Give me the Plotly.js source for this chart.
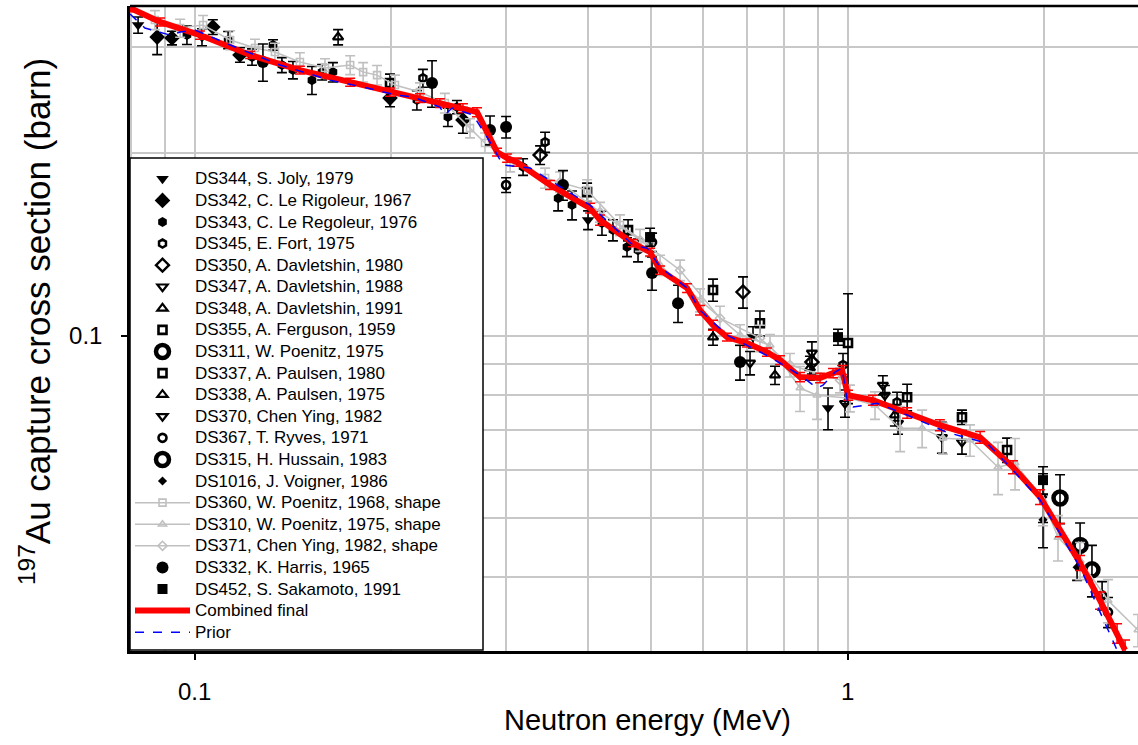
<!DOCTYPE html>
<html><head><meta charset="utf-8">
<script src="https://cdn.plot.ly/plotly-3.0.1.min.js"></script>
<style>html,body{margin:0;padding:0;background:#fff}#chart{width:1138px;height:745px}</style>
</head><body><div id="chart"></div>
<script>
// ---- data (energy in MeV, cross section in barn, absolute uncertainty) ----
const E_DS344 = [0.0819, 0.1026, 0.4003, 0.7161, 0.9329];
const S_DS344 = [0.3256, 0.3110, 0.1552, 0.0995, 0.0760];
const U_DS344 = [0.010, 0.010, 0.0055, 0.004, 0.006];

const E_DS342 = [0.0876, 0.0923, 0.1066, 0.1173, 0.1991, 0.2575];
const S_DS342 = [0.3110, 0.3099, 0.3231, 0.2906, 0.2467, 0.2269];
const U_DS342 = [0.020, 0.008, 0.009, 0.008, 0.008, 0.011];

const E_DS343 = [0.0973,0.1125,0.1224,0.1318,0.1360,0.1414,0.1512,0.1567,0.1628,0.2189,0.2442,0.2521,0.3183,0.3602,0.3783,0.4204,0.4370,0.4592,0.4774];
const S_DS343 = [0.3134,0.3076,0.2884,0.3018,0.2797,0.2744,0.2641,0.2723,0.2723,0.2448,0.2295,0.2384,0.1899,0.1687,0.1643,0.1535,0.1494,0.1401,0.1384];
const U_DS343 = [0.011,0.010,0.009,0.006,0.008,0.009,0.014,0.008,0.010,0.009,0.008,0.006,0.006,0.008,0.009,0.007,0.006,0.005,0.006];

const E_DS345 = [0.2236, 0.3440, 0.9835, 1.190];
const S_DS345 = [0.2661, 0.2087, 0.0895, 0.0777];
const U_DS345 = [0.009, 0.008, 0.004, 0.003];

const E_DS350 = [0.3380, 0.6913, 0.8814];
const S_DS350 = [0.1987, 0.1181, 0.0905];
const U_DS350 = [0.007, 0.007, 0.004];

const E_DS347 = [0.7086, 0.8814, 0.9905, 1.132, 1.194, 1.394];
const S_DS347 = [0.0902, 0.0937, 0.0774, 0.0829, 0.0718, 0.0680];
const U_DS347 = [0.004, 0.004, 0.004, 0.003, 0.003, 0.004];

const E_DS348 = [0.1658, 0.6219, 0.7738];
const S_DS348 = [0.3110, 0.0995, 0.0861];
const U_DS348 = [0.009, 0.003, 0.003];

const E_DS355 = [0.6219, 0.7338, 1.496, 1.754];
const S_DS355 = [0.1190, 0.1049, 0.0734, 0.0648];
const U_DS355 = [0.005, 0.005, 0.002, 0.003];

const E_DS311 = [2.114, 2.269];
const S_DS311 = [0.0540, 0.0451];
const U_DS311 = [0.005, 0.004];

const E_DS337 = [0.1991, 0.3989, 0.4609, 1.001, 1.233];
const S_DS337 = [0.2612, 0.1726, 0.1494, 0.0973, 0.0792];
const U_DS337 = [0.009, 0.006, 0.006, 0.020, 0.004];

const E_DS338 = [0.8752, 1.181];
const S_DS338 = [0.0885, 0.0740];
const U_DS338 = [0.004, 0.003];

const E_DS370 = [1.140, 1.496];
const S_DS370 = [0.0798, 0.0668];
const U_DS370 = [0.003, 0.003];

const E_DS367 = [0.2998, 0.5016, 2.452, 2.504];
const S_DS367 = [0.1773, 0.1427, 0.0373, 0.0350];
const U_DS367 = [0.005, 0.005, 0.002, 0.002];

const E_DS315 = [2.366];
const S_DS315 = [0.0411];
const U_DS315 = [0.004];

const E_DS1016 = [1.991, 1.991, 2.245];
const S_DS1016 = [0.0542, 0.0497, 0.0415];
const U_DS1016 = [0.005, 0.005, 0.002];

const E_DS360 = [0.0869,0.0950,0.1030,0.1133,0.1237,0.1327,0.1449,0.1583,0.1730,0.1811,0.1902,0.2026,0.2213,0.2416,0.2640,0.2783,0.3041,0.3440,0.3989,0.4479,0.4981];
const S_DS360 = [0.3319,0.3219,0.3256,0.3076,0.2984,0.2939,0.2830,0.2765,0.2797,0.2723,0.2692,0.2592,0.2524,0.2421,0.2201,0.2080,0.1934,0.1821,0.1739,0.1523,0.1411];
const U_DS360 = [0.012,0.011,0.012,0.011,0.010,0.010,0.010,0.010,0.010,0.010,0.010,0.010,0.009,0.009,0.008,0.008,0.007,0.007,0.007,0.006,0.006];

const E_DS310 = [0.5160,0.5941,0.6840,0.7603,0.8452,0.8974,1.008,1.101,1.203,1.300,1.399,1.539,1.699,1.804,1.991,2.099,2.269,2.504,2.783];
const S_DS310 = [0.1308,0.1145,0.1003,0.0965,0.0820,0.0798,0.0789,0.0768,0.0704,0.0704,0.0678,0.0673,0.0607,0.0617,0.0536,0.0465,0.0426,0.0366,0.0327];
const U_DS310 = [0.005,0.005,0.004,0.004,0.007,0.007,0.004,0.004,0.006,0.005,0.004,0.004,0.006,0.006,0.005,0.004,0.003,0.003,0.002];

const E_DS371 = [0.3627,0.4175,0.4808,0.5537,0.6374,0.7338,0.8157,0.9732];
const S_DS371 = [0.1793,0.1600,0.1438,0.1283,0.1069,0.0991,0.0895,0.0845];
const U_DS371 = [0.007,0.006,0.006,0.005,0.005,0.005,0.004,0.004];

const E_DS332 = [0.1272,0.2309,0.2833,0.2998,0.3664,0.5016,0.5497,0.6840];
const S_DS332 = [0.2830,0.2612,0.2185,0.2210,0.1773,0.1269,0.1132,0.0905];
const U_DS332 = [0.020,0.023,0.012,0.009,0.010,0.008,0.008,0.006];

const E_DS452 = [0.4981, 0.9663, 1.991];
const S_DS452 = [0.1455, 0.0995, 0.0578];
const U_DS452 = [0.005, 0.003, 0.003];

const E_FINAL = [0.0796,0.0885,0.1019,0.1216,0.1449,0.1730,0.1991,0.2213,0.2374,0.2575,0.2706,0.2904,0.3009,0.3116,0.3501,0.4031,0.4175,0.4690,0.4981,0.5160,0.5675,0.5941,0.6219,0.6533,0.7011,0.7522,0.7876,0.8452,0.9070,0.9495,0.9801,1.001,1.093,1.233,1.384,1.595,1.791,1.970,2.114,2.269,2.434,2.585,2.659];
const S_FINAL = [0.3474,0.3294,0.3134,0.2906,0.2744,0.2621,0.2524,0.2467,0.2421,0.2375,0.2339,0.2009,0.1964,0.1934,0.1773,0.1624,0.1552,0.1422,0.1374,0.1283,0.1199,0.1102,0.1041,0.0995,0.0973,0.0940,0.0912,0.0855,0.0852,0.0868,0.0878,0.0798,0.0783,0.0746,0.0712,0.0680,0.0607,0.0542,0.0478,0.0422,0.0366,0.0323,0.0303];
const U_FINAL = [0.005,0.005,0.005,0.004,0.004,0.004,0.004,0.004,0.004,0.004,0.004,0.003,0.003,0.003,0.003,0.003,0.003,0.002,0.002,0.002,0.002,0.002,0.002,0.0015,0.0015,0.0015,0.0015,0.0015,0.0015,0.0015,0.0015,0.0015,0.0015,0.0015,0.0015,0.0015,0.0015,0.0015,0.0012,0.0012,0.0012,0.0012,0.0012];

const E_PRIOR = [0.0796,0.0839,0.0917,0.0950,0.1001,0.1133,0.1351,0.1611,0.1811,0.2041,0.2159,0.2293,0.2374,0.2416,0.2477,0.2668,0.2803,0.2966,0.3263,0.4031,0.4690,0.4929,0.5160,0.5675,0.5941,0.6533,0.7603,0.8452,0.8974,0.9166,0.9561,0.9801,1.001,1.019,1.109,1.233,1.419,1.634,1.791,1.970,2.269,2.585];
const S_PRIOR = [0.3396,0.3219,0.3134,0.3171,0.3195,0.3018,0.2797,0.2641,0.2572,0.2495,0.2476,0.2421,0.2384,0.2313,0.2375,0.2313,0.2128,0.1913,0.1891,0.1643,0.1411,0.1395,0.1298,0.1199,0.1102,0.1003,0.0922,0.0861,0.0820,0.0829,0.0871,0.0885,0.0768,0.0763,0.0774,0.0740,0.0693,0.0665,0.0600,0.0536,0.0415,0.0303];

const X_TICKS = [0.1, 1];
const X_TICKTEXT = ['0.1', '1'];
const X_MINOR = [0.08, 0.09, 0.2, 0.3, 0.4, 0.5, 0.6, 0.7, 0.8, 0.9, 2];
const Y_TICKS = [0.1];
const Y_TICKTEXT = ['0.1'];
const Y_MINOR = [0.04, 0.05, 0.06, 0.07, 0.08, 0.09, 0.2, 0.3];
const X_TITLE = 'Neutron energy (MeV)';
const Y_TITLE = '<sup>197</sup>Au capture cross section (barn)';

// ---- traces ----
const BLK = '#000000', GRY = '#c0c0c0';
const lg = s => '<span style="font-size:17px">' + s + '</span>';
function pts(name, E, S, U, symbol, size, lw, color) {
  return {
    type: 'scatter', mode: 'markers', name: lg(name), x: E, y: S,
    error_y: {type: 'data', array: U, visible: true, color: BLK, thickness: 1.6, width: 5},
    marker: {symbol: symbol, size: size, color: color || BLK, line: {color: BLK, width: lw}}
  };
}
function shape(name, E, S, U, symbol) {
  return {
    type: 'scatter', mode: 'lines+markers', name: lg(name), x: E, y: S,
    line: {color: GRY, width: 1.5},
    error_y: {type: 'data', array: U, visible: true, color: GRY, thickness: 1.6, width: 5},
    marker: {symbol: symbol, size: 7, color: GRY, line: {color: GRY, width: 1.6}}
  };
}
const traces = [
  pts('DS344, S. Joly, 1979', E_DS344, S_DS344, U_DS344, 'triangle-down', 11, 0),
  pts('DS342, C. Le Rigoleur, 1967', E_DS342, S_DS342, U_DS342, 'diamond', 12, 0),
  pts('DS343, C. Le Regoleur, 1976', E_DS343, S_DS343, U_DS343, 'hexagon', 10, 0),
  pts('DS345, E. Fort, 1975', E_DS345, S_DS345, U_DS345, 'hexagon-open', 8, 2.5),
  pts('DS350, A. Davletshin, 1980', E_DS350, S_DS350, U_DS350, 'diamond-open', 10, 2.4),
  pts('DS347, A. Davletshin, 1988', E_DS347, S_DS347, U_DS347, 'triangle-down-open', 9, 2.2),
  pts('DS348, A. Davletshin, 1991', E_DS348, S_DS348, U_DS348, 'triangle-up-open', 9, 2.2),
  pts('DS355, A. Ferguson, 1959', E_DS355, S_DS355, U_DS355, 'square-open', 8, 2.6),
  pts('DS311, W. Poenitz, 1975', E_DS311, S_DS311, U_DS311, 'circle-open', 13, 4.5),
  pts('DS337, A. Paulsen, 1980', E_DS337, S_DS337, U_DS337, 'square-open', 8, 2.6),
  pts('DS338, A. Paulsen, 1975', E_DS338, S_DS338, U_DS338, 'triangle-up-open', 9, 2.2),
  pts('DS370, Chen Ying, 1982', E_DS370, S_DS370, U_DS370, 'triangle-down-open', 9, 2.2),
  pts('DS367, T. Ryves, 1971', E_DS367, S_DS367, U_DS367, 'circle-open', 8, 2.6),
  pts('DS315, H. Hussain, 1983', E_DS315, S_DS315, U_DS315, 'circle-open', 13, 4.5),
  pts('DS1016, J. Voigner, 1986', E_DS1016, S_DS1016, U_DS1016, 'diamond', 7, 0),
  shape('DS360, W. Poenitz, 1968, shape', E_DS360, S_DS360, U_DS360, 'square-open'),
  shape('DS310, W. Poenitz, 1975, shape', E_DS310, S_DS310, U_DS310, 'triangle-up-open'),
  shape('DS371, Chen Ying, 1982, shape', E_DS371, S_DS371, U_DS371, 'diamond-open'),
  pts('DS332, K. Harris, 1965', E_DS332, S_DS332, U_DS332, 'circle', 12, 0),
  pts('DS452, S. Sakamoto, 1991', E_DS452, S_DS452, U_DS452, 'square', 10, 0),
  {type: 'scatter', mode: 'lines', name: lg('Combined final'), x: E_FINAL, y: S_FINAL,
   line: {color: '#ff0000', width: 6},
   error_y: {type: 'data', array: U_FINAL, visible: true, color: '#ff0000', thickness: 1.5, width: 5}},
  {type: 'scatter', mode: 'lines', name: lg('Prior'), x: E_PRIOR, y: S_PRIOR,
   line: {color: '#0000ff', width: 1.5, dash: 'dash'}}
];

const FONT = 'Liberation Sans, Arial, sans-serif';
const layout = {
  width: 1138, height: 745,
  margin: {l: 130, r: 0, t: 6, b: 94},
  paper_bgcolor: '#ffffff', plot_bgcolor: '#ffffff',
  font: {family: FONT, color: '#000000'},
  showlegend: true,
  legend: {x: 0, y: 0.7566, xanchor: 'left', yanchor: 'top', bgcolor: 'rgba(0,0,0,0)',
           borderwidth: 0, font: {family: FONT, size: 14.3, color: '#000'},
           tracegroupgap: 0, itemwidth: 55},
  xaxis: {
    type: 'log', range: [Math.log10(0.0796), Math.log10(2.783)],
    tickmode: 'array', tickvals: X_TICKS, ticktext: X_TICKTEXT,
    ticks: 'outside', ticklen: 6, tickwidth: 1.5, tickcolor: '#000',
    ticklabelstandoff: 11,
    tickfont: {family: FONT, size: 24},
    showline: true, linecolor: '#000', linewidth: 2.5, mirror: false,
    showgrid: true, gridcolor: '#c8c8c8', gridwidth: 1.5, zeroline: false,
    minor: {tickvals: X_MINOR, showgrid: true, gridcolor: '#c8c8c8', gridwidth: 1.5, ticks: ''}
  },
  yaxis: {
    type: 'log', range: [Math.log10(0.0302), Math.log10(0.350)],
    tickmode: 'array', tickvals: Y_TICKS, ticktext: Y_TICKTEXT,
    ticks: 'outside', ticklen: 6, tickwidth: 1.5, tickcolor: '#000',
    ticklabelstandoff: 14,
    tickfont: {family: FONT, size: 24},
    showline: true, linecolor: '#000', linewidth: 2.5, mirror: false,
    showgrid: true, gridcolor: '#c8c8c8', gridwidth: 1.5, zeroline: false,
    minor: {tickvals: Y_MINOR, showgrid: true, gridcolor: '#c8c8c8', gridwidth: 1.5, ticks: ''}
  },
  annotations: [
    {text: X_TITLE, xref: 'paper', yref: 'paper', x: 0.513, y: -0.107, xanchor: 'center', yanchor: 'middle',
     showarrow: false, font: {family: FONT, size: 29, color: '#000'}},
    {text: Y_TITLE, xref: 'paper', yref: 'paper', x: -0.0942, y: 0.510, xanchor: 'center', yanchor: 'middle',
     textangle: -90, showarrow: false, font: {family: FONT, size: 35, color: '#000'}}
  ],
  shapes: [
    {type: 'line', xref: 'paper', yref: 'paper', x0: 0, x1: 1, y0: 1, y1: 1, line: {color: '#000', width: 2.5}},
    {type: 'rect', xref: 'paper', yref: 'paper', x0: 0, x1: 0.3502, y0: 0.0016, y1: 0.7643, layer: 'above',
     fillcolor: '#ffffff', line: {color: '#000', width: 1.5}}
  ]
};

Plotly.newPlot('chart', traces, layout, {displayModeBar: false, responsive: false});
</script></body></html>
